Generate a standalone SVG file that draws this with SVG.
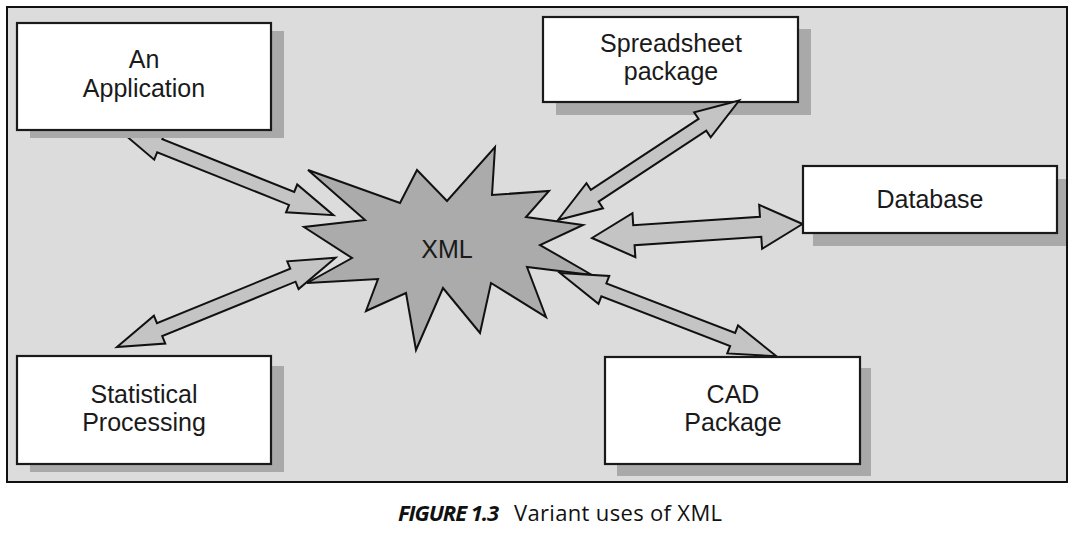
<svg xmlns="http://www.w3.org/2000/svg" width="1075" height="551" viewBox="0 0 1075 551">
<style>
.box{fill:#ffffff;stroke:#1a1a1a;stroke-width:2.2}
.shadow{fill:#a9a9a9}
.lbl{font-family:"Liberation Sans",Arial,sans-serif;font-size:25px;fill:#1a1a1a;text-anchor:middle}
.arrow{fill:#c4c4c4;stroke:#111;stroke-width:2;stroke-linejoin:miter}
.star{fill:#ababab;stroke:#111;stroke-width:2;stroke-linejoin:miter}
.cap{font-family:"Open Sans",Lato,sans-serif;font-size:22px;fill:#111}
</style>
<rect width="1075" height="551" fill="#ffffff"/>
<rect id="frame" x="7" y="7" width="1060" height="475" fill="#dcdcdc" stroke="#111" stroke-width="2"/>

<g id="xml">
<polygon class="star" points="308,170 400,203 417,170 447,201 495,147 492,195 549,191 526,217 583,225 540,245 592,275 527,267 546,317 491,283 480,333 443,288 416,350 406,293 366,311 378,279 307,283 352,258 304,227 365,220"/>
<text class="lbl" x="447" y="258">XML</text>
</g>

<g id="spreadsheet">
<rect class="shadow" x="556" y="29" width="255" height="86"/>
<rect class="box" x="543" y="17" width="255" height="85"/>
<text class="lbl" x="671" y="52">Spreadsheet</text>
<text class="lbl" x="671" y="80">package</text>
</g>

<g id="connectors">
<polygon class="arrow" transform="translate(118 129) rotate(21.8)" points="0,0 45,-15 45,-7 187,-7 187,-15 232,0 187,15 187,7 45,7 45,15"/>
<polygon class="arrow" transform="translate(558 220) rotate(-33.4)" points="0,0 44,-15 44,-7 173,-7 173,-15 217,0 173,15 173,7 44,7 44,15"/>
<polygon class="arrow" transform="translate(592 238) rotate(-3.8)" points="0,0 42,-22 42,-10 169,-10 169,-22 211,0 169,22 169,10 42,10 42,22"/>
<polygon class="arrow" transform="translate(560 273) rotate(21.05)" points="0,0 47,-15 47,-7 185,-7 185,-15 232,0 185,15 185,7 47,7 47,15"/>
<polygon class="arrow" transform="translate(117 347) rotate(-22.2)" points="0,0 46,-15 46,-7 190,-7 190,-15 236,0 190,15 190,7 46,7 46,15"/>
</g>

<g id="application">
<rect class="shadow" x="30" y="31" width="254" height="107"/>
<rect class="box" x="17" y="23" width="254" height="107"/>
<text class="lbl" x="144" y="68">An</text>
<text class="lbl" x="144" y="97">Application</text>
</g>

<g id="database">
<rect class="shadow" x="813" y="179" width="253" height="67"/>
<rect class="box" x="803" y="166" width="254" height="67"/>
<text class="lbl" x="930" y="208">Database</text>
</g>

<g id="statistical">
<rect class="shadow" x="30" y="366" width="254" height="106"/>
<rect class="box" x="17" y="356" width="254" height="108"/>
<text class="lbl" x="144" y="403">Statistical</text>
<text class="lbl" x="144" y="431">Processing</text>
</g>

<g id="cad">
<rect class="shadow" x="617" y="368" width="254" height="108"/>
<rect class="box" x="605" y="357" width="255" height="107"/>
<text class="lbl" x="733" y="403">CAD</text>
<text class="lbl" x="733" y="431">Package</text>
</g>

<g id="caption">
<text class="cap" x="398" y="521" font-weight="bold" font-style="italic" textLength="101">FIGURE 1.3</text>
<text class="cap" x="514" y="521" textLength="208">Variant uses of XML</text>
</g>
</svg>
